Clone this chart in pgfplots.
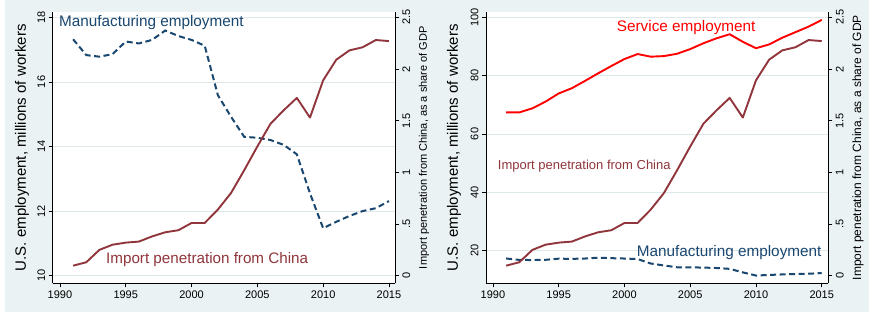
\documentclass[border=0pt]{standalone}
\usepackage{pgfplots}
\pgfplotsset{compat=1.18}
\usepackage{pgfplotstable}
\usepackage{fontspec}
\setmainfont{Liberation Sans}
\definecolor{bg}{RGB}{234,242,243}
\definecolor{grd}{RGB}{222,232,234}
\definecolor{snavy}{RGB}{26,71,111}
\definecolor{smaroon}{RGB}{144,53,59}
\definecolor{sred}{RGB}{255,0,0}

\pgfplotstableread{
year manuf imp serv
1991 17.32 0.097 67.4
1992 16.83 0.13 67.4
1993 16.78 0.25 68.8
1994 16.86 0.30 71.1
1995 17.25 0.32 73.9
1996 17.19 0.33 75.7
1997 17.30 0.38 78.2
1998 17.59 0.42 80.8
1999 17.42 0.44 83.3
2000 17.30 0.51 85.7
2001 17.12 0.51 87.4
2002 15.59 0.64 86.5
2003 14.92 0.80 86.7
2004 14.30 1.02 87.5
2005 14.27 1.25 89.1
2006 14.20 1.47 91.1
2007 14.05 1.60 92.8
2008 13.76 1.72 94.2
2009 12.55 1.53 91.6
2010 11.47 1.89 89.4
2011 11.67 2.09 90.7
2012 11.85 2.18 93.0
2013 12.00 2.21 94.9
2014 12.09 2.28 96.8
2015 12.31 2.27 99.1
}\data

\pgfplotsset{
  base/.style={
    scale only axis, width=342.3pt, height=271.3pt, anchor=south west,
    axis line style={-, black, line width=0.7pt},
    tick style={black, line width=0.7pt},
    tick align=outside, major tick length=4pt,
    /pgf/number format/assume math mode=true,
    tick label style={font=\fontsize{11}{13}\selectfont},
    xtick={1990,1995,2000,2005,2010,2015},
    xticklabels={1990,1995,2000,2005,2010,2015},
    clip=false,
  },
  leftax/.style={
    base,
    axis background/.style={fill=white},
    axis x line*=bottom, axis y line*=left,
    ymajorgrids, grid style={grd, line width=0.6pt},
    yticklabel style={rotate=90, anchor=south},
  },
  rightax/.style={
    base,
    axis x line=none, axis y line*=right,
    ymin=-0.0735, ymax=2.5513,
    ytick={0,0.5,1,1.5,2,2.5}, yticklabels={0,.5,1,1.5,2,2.5},
    yticklabel style={rotate=90, anchor=north},
  },
  mline/.style={snavy, line width=2pt, dash pattern=on 6pt off 3.5pt},
  iline/.style={smaroon, line width=1.9pt, line join=round},
  sline/.style={sred, line width=1.9pt, line join=round},
}

\begin{document}
\begin{tikzpicture}
\useasboundingbox (0,0) rectangle (869pt,312pt);
\fill[white] (0,0) rectangle (869pt,312pt);
\fill[bg] (5pt,0) rectangle (869pt,312pt);

% ---------- left panel ----------
\begin{axis}[leftax, at={(52.7pt,28.7pt)},
  xmin=1989.45, xmax=2015.46, ymin=9.765, ymax=18.164,
  ytick={10,12,14,16,18}, yticklabels={10,12,14,16,18}]
\addplot[mline] table[x=year,y=manuf]{\data};
\node[anchor=base west, text=snavy, font=\fontsize{15.3}{18}\selectfont, inner sep=0pt] at (axis cs:1989.92,17.70) {Manufacturing employment};
\node[anchor=base west, text=smaroon, font=\fontsize{15.2}{18}\selectfont, inner sep=0pt] at (axis cs:1993.5,10.37) {Import penetration from China};
\node[rotate=90, font=\fontsize{15}{18}\selectfont] at (axis description cs:-0.0897,0.5) {U.S. employment, millions of workers};
\end{axis}
\begin{axis}[rightax, at={(52.7pt,28.7pt)},
  xmin=1989.45, xmax=2015.46]
\addplot[iline] table[x=year,y=imp]{\data};
\node[rotate=90, font=\fontsize{11}{13}\selectfont] at (axis description cs:1.0847,0.5) {Import penetration from China, as a share of GDP};
\end{axis}

% ---------- right panel ----------
\begin{axis}[leftax, at={(486pt,28.7pt)},
  xmin=1989.47, xmax=2015.50, ymin=8.81, ymax=101.82,
  ytick={20,40,60,80,100}, yticklabels={20,40,60,80,100}]
\addplot[sline] table[x=year,y=serv]{\data};
\addplot[mline] table[x=year,y=manuf]{\data};
\node[anchor=base west, text=sred, font=\fontsize{15.3}{18}\selectfont, inner sep=0pt] at (axis cs:1999.41,95.06) {Service employment};
\node[anchor=base west, text=snavy, font=\fontsize{15.3}{18}\selectfont, inner sep=0pt] at (axis cs:2000.93,17.83) {Manufacturing employment};
\node[rotate=90, font=\fontsize{15}{18}\selectfont] at (axis description cs:-0.0935,0.5) {U.S. employment, millions of workers};
\end{axis}
\begin{axis}[rightax, at={(486pt,28.7pt)},
  xmin=1989.47, xmax=2015.50]
\addplot[iline] table[x=year,y=imp]{\data};
\node[anchor=base west, text=smaroon, font=\fontsize{13}{15}\selectfont, inner sep=0pt] at (axis cs:1990.36,1.0256) {Import penetration from China};
\node[rotate=90, font=\fontsize{12}{14}\selectfont] at (axis description cs:1.0868,0.5) {Import penetration from China, as a share of GDP};
\end{axis}
\end{tikzpicture}
\end{document}
